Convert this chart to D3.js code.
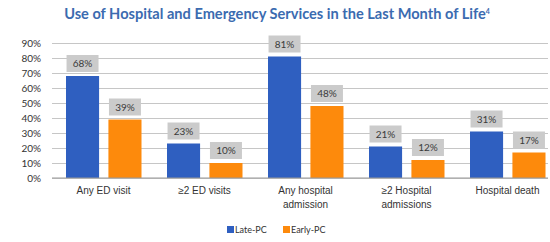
<!DOCTYPE html>
<html>
<head>
<meta charset="utf-8">
<script src="https://cdn.jsdelivr.net/npm/d3@7"></script>
<style>
  body { margin: 0; background: #fff; }
  svg { display: block; font-family: Lato, "Open Sans", sans-serif; }
</style>
</head>
<body>
<div id="chart"></div>
<script>
// chart data
const categories = ["Any ED visit", "\u22652 ED visits", "Any hospital\nadmission", "\u22652 Hospital\nadmissions", "Hospital death"];
const seriesNames = ["Late-PC", "Early-PC"];
const latePC = [68, 23, 81, 21, 31];
const earlyPC = [39, 10, 48, 12, 17];
const yTicks = [0, 10, 20, 30, 40, 50, 60, 70, 80, 90];

const colors = { "Late-PC": "#2f5fc0", "Early-PC": "#fd8a0c" };

const totalWidth = 550, totalHeight = 242;
const svg = d3.select("#chart").append("svg")
    .attr("width", totalWidth)
    .attr("height", totalHeight);

// title
svg.append("text")
    .attr("x", 277)
    .attr("y", 19)
    .attr("text-anchor", "middle")
    .style("font-size", "14.6px")
    .style("font-weight", "bold")
    .style("fill", "#3b6bb0")
    .text("Use of Hospital and Emergency Services in the Last Month of Life")
    .append("tspan")
    .attr("dy", -5)
    .style("font-size", "7px")
    .text("4");

// scales
const x = d3.scaleBand()
    .domain(categories)
    .range([55.5, 560.5]);

// bars within one group, offsets from the band start
const inner = d3.scaleBand()
    .domain(seriesNames)
    .range([10.5, 86])
    .paddingInner(0.22);

const y = d3.scaleLinear()
    .domain([0, 90])
    .range([178, 43]);

// grid
svg.append("g")
    .attr("transform", "translate(52,0)")
    .call(d3.axisLeft(y).tickValues(yTicks).tickSize(-496).tickFormat(""))
    .call(g => g.select(".domain").remove())
    .call(g => g.selectAll("line").attr("stroke", "#c6c6c6").attr("stroke-width", 1));

// y labels
svg.append("g")
    .attr("transform", "translate(44,0)")
    .call(d3.axisLeft(y).tickValues(yTicks).tickSize(0).tickFormat(d => d + "%"))
    .call(g => g.select(".domain").remove())
    .call(g => g.selectAll("text")
        .style("font-size", "10px")
        .style("fill", "#333")
        .attr("font-family", "Lato, sans-serif"));

// bars
const rows = categories.map((c, i) => ({ cat: c, "Late-PC": latePC[i], "Early-PC": earlyPC[i] }));

const groups = svg.selectAll(".grp")
    .data(rows)
    .enter().append("g")
    .attr("class", "grp")
    .attr("transform", d => `translate(${x(d.cat)},0)`);

groups.selectAll("rect.bar")
    .data(d => seriesNames.map(k => ({ key: k, value: d[k] })))
    .enter().append("rect")
    .attr("class", "bar")
    .attr("x", d => inner(d.key))
    .attr("y", d => y(d.value))
    .attr("width", inner.bandwidth())
    .attr("height", d => y(0) - y(d.value))
    .attr("fill", d => colors[d.key]);

// value labels
const lab = groups.selectAll("g.lab")
    .data(d => seriesNames.map(k => ({ key: k, value: d[k] })))
    .enter().append("g")
    .attr("class", "lab")
    .attr("transform", d => `translate(${inner(d.key) + inner.bandwidth() / 2},${y(d.value) - 4})`);

lab.append("rect")
    .attr("x", -16)
    .attr("y", -17)
    .attr("width", 32)
    .attr("height", 17)
    .attr("fill", "#cbcbcb");

lab.append("text")
    .attr("y", -5)
    .attr("text-anchor", "middle")
    .style("font-size", "10px")
    .style("fill", "#3a3a3a")
    .text(d => d.value + "%");

// baseline
svg.append("line")
    .attr("x1", 52).attr("x2", 548)
    .attr("y1", y(0)).attr("y2", y(0))
    .attr("stroke", "#999");

// x labels
const xAxis = svg.append("g")
    .attr("transform", `translate(0,${y(0)})`)
    .call(d3.axisBottom(x).tickSize(0).tickFormat(""))
    .call(g => g.select(".domain").remove());

xAxis.selectAll(".tick").append("text")
    .attr("text-anchor", "middle")
    .style("font-size", "10px")
    .style("fill", "#333")
    .selectAll("tspan")
    .data(d => d.split("\n"))
    .enter().append("tspan")
    .attr("x", -2.5)
    .attr("y", (d, i) => 16 + i * 14)
    .text(d => d);

// legend
const legend = svg.append("g")
    .attr("transform", "translate(227,229)");

const legItems = legend.selectAll("g")
    .data(seriesNames)
    .enter().append("g")
    .attr("transform", (d, i) => `translate(${i * 56},0)`);

legItems.append("rect")
    .attr("y", -3)
    .attr("width", 7)
    .attr("height", 7)
    .attr("fill", d => colors[d]);

legItems.append("text")
    .attr("x", 8)
    .attr("y", 4)
    .style("font-size", "9px")
    .style("fill", "#333")
    .text(d => d);
</script>
</body>
</html>
